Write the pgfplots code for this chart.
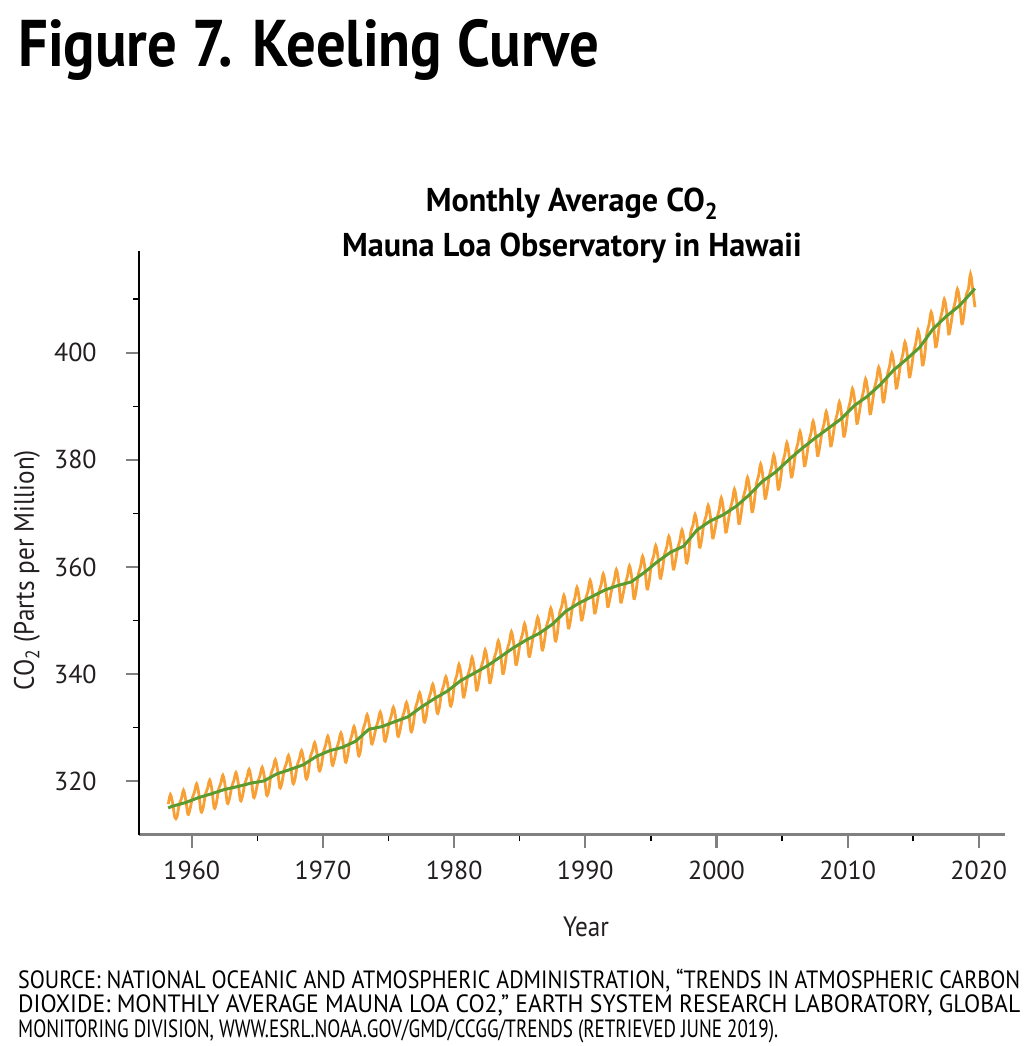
\documentclass[border=0pt]{standalone}
\usepackage{fontspec}
\usepackage{graphicx}
\usepackage{pgfplots}
\pgfplotsset{compat=1.18}
\setmainfont{PT Sans}
\newfontfamily\titlefont{PT Sans}[FakeStretch=0.89]
\newfontfamily\headfont{PT Sans}[FakeStretch=0.975]
\newfontfamily\labelfont{PT Sans}[FakeStretch=0.9]
\newfontfamily\notefont{PT Sans}[FakeStretch=0.8]

\definecolor{co2orange}{HTML}{F7A035}
\definecolor{co2green}{HTML}{5A9A2F}
\definecolor{tickgray}{HTML}{808080}
\definecolor{txt}{HTML}{231F20}

\newcommand\noteline[2]{\resizebox{#1}{\height}{\fontsize{25}{27}\notefont #2}}

\begin{document}
\begin{tikzpicture}
\path[use as bounding box] (0pt,0pt) rectangle (1024pt,1046pt);

% headings
\node[anchor=base west, inner sep=0pt] at (18pt,979pt)
  {\fontsize{66}{70}\titlefont\bfseries Figure 7. Keeling Curve};
\node[anchor=base, inner sep=0pt] at (572pt,834pt)
  {\fontsize{33}{36}\headfont\bfseries Monthly Average CO\textsubscript{2}};
\node[anchor=base, inner sep=0pt] at (572pt,789pt)
  {\fontsize{33}{36}\headfont\bfseries Mauna Loa Observatory in Hawaii};

% axis titles
\node[rotate=90, inner sep=0pt, text=txt] at (27pt,476pt)
  {\fontsize{28}{30}\labelfont CO\textsubscript{2} (Parts per Million)};
\node[anchor=base, inner sep=0pt, text=txt] at (586pt,109pt)
  {\fontsize{28}{30}\labelfont Year};

% source note
\node[anchor=base west, inner sep=0pt] at (18pt,57pt)
  {\noteline{1002pt}{SOURCE: NATIONAL OCEANIC AND ATMOSPHERIC ADMINISTRATION, “TRENDS IN ATMOSPHERIC CARBON}};
\node[anchor=base west, inner sep=0pt] at (18pt,33pt)
  {\noteline{1002pt}{DIOXIDE: MONTHLY AVERAGE MAUNA LOA CO2,” EARTH SYSTEM RESEARCH LABORATORY, GLOBAL}};
\node[anchor=base west, inner sep=0pt] at (18pt,9pt)
  {\noteline{760pt}{MONITORING DIVISION, WWW.ESRL.NOAA.GOV/GMD/CCGG/TRENDS (RETRIEVED JUNE 2019).}};

\begin{axis}[
  at={(139.3pt,211.3pt)}, anchor=south west,
  scale only axis, width=865.7pt, height=583.7pt,
  xmin=1956, xmax=2022, ymin=310, ymax=419,
  axis lines=left, axis line style={-},
  x axis line style={draw=tickgray, line width=2.4pt},
  y axis line style={draw=black, line width=1.8pt},
  xtick={1960,1970,...,2020}, minor xtick={1965,1975,...,2015},
  ytick={320,340,...,400}, minor ytick={330,350,...,410},
  tick align=outside,
  major tick length=13.5pt, minor tick length=6.5pt,
  major tick style={draw=tickgray, line width=2.2pt},
  minor tick style={draw=black, line width=1.4pt},
  tick label style={font=\fontsize{26}{28}\selectfont, text=txt, inner sep=0pt},
  /pgf/number format/assume math mode=true,
  /pgf/number format/1000 sep={},
  yticklabel style={anchor=east, xshift=-29pt},
  xticklabel style={anchor=north, yshift=-13pt},
]
% monthly averages (every second month)
\addplot[co2orange, line width=2.8pt, smooth] coordinates {
(1958.21,315.7) (1958.37,317.5) (1958.54,315.9) (1958.71,313.2) (1958.87,313.3)
(1959.04,315.6) (1959.21,316.7) (1959.37,318.3) (1959.54,316.5) (1959.71,313.8) (1959.87,314.8)
(1960.04,316.8) (1960.21,318.0) (1960.37,319.5) (1960.54,317.6) (1960.71,314.3) (1960.87,315.1)
(1961.04,317.5) (1961.21,318.7) (1961.37,320.2) (1961.54,318.3) (1961.71,315.0) (1961.87,315.8)
(1962.04,318.4) (1962.21,319.6) (1962.37,321.1) (1962.54,319.2) (1962.71,315.9) (1962.87,316.7)
(1963.04,318.9) (1963.21,320.1) (1963.37,321.6) (1963.54,319.7) (1963.71,316.4) (1963.87,317.2)
(1964.04,319.5) (1964.21,320.7) (1964.37,322.2) (1964.54,320.3) (1964.71,317.0) (1964.87,317.8)
(1965.04,319.9) (1965.21,321.1) (1965.37,322.6) (1965.54,320.7) (1965.71,317.4) (1965.87,318.2)
(1966.04,321.3) (1966.21,322.5) (1966.37,324.0) (1966.54,322.1) (1966.71,318.8) (1966.87,319.6)
(1967.04,322.1) (1967.21,323.3) (1967.37,324.8) (1967.54,322.9) (1967.71,319.6) (1967.87,320.4)
(1968.04,323.0) (1968.21,324.2) (1968.37,325.7) (1968.54,323.8) (1968.71,320.5) (1968.87,321.3)
(1969.04,324.5) (1969.21,325.7) (1969.37,327.2) (1969.54,325.3) (1969.71,322.0) (1969.87,322.8)
(1970.04,325.4) (1970.21,326.8) (1970.37,328.4) (1970.54,326.5) (1970.71,323.0) (1970.87,324.0)
(1971.04,326.0) (1971.21,327.4) (1971.37,329.0) (1971.54,327.1) (1971.71,323.6) (1971.87,324.6)
(1972.04,327.2) (1972.21,328.6) (1972.37,330.2) (1972.54,328.3) (1972.71,324.8) (1972.87,325.8)
(1973.04,329.4) (1973.21,330.8) (1973.37,332.4) (1973.54,330.5) (1973.71,327.0) (1973.87,328.0)
(1974.04,329.9) (1974.21,331.3) (1974.37,332.9) (1974.54,331.0) (1974.71,327.5) (1974.87,328.5)
(1975.04,330.8) (1975.21,332.2) (1975.37,333.8) (1975.54,331.9) (1975.71,328.4) (1975.87,329.4)
(1976.04,331.7) (1976.21,333.1) (1976.37,334.7) (1976.54,332.8) (1976.71,329.3) (1976.87,330.3)
(1977.04,333.5) (1977.21,334.9) (1977.37,336.5) (1977.54,334.6) (1977.71,331.1) (1977.87,332.1)
(1978.04,335.1) (1978.21,336.5) (1978.37,338.1) (1978.54,336.2) (1978.71,332.7) (1978.87,333.7)
(1979.04,336.5) (1979.21,337.9) (1979.37,339.5) (1979.54,337.6) (1979.71,334.1) (1979.87,335.1)
(1980.04,338.4) (1980.21,339.8) (1980.37,341.8) (1980.54,339.7) (1980.71,335.7) (1980.87,337.1)
(1981.04,339.7) (1981.21,341.1) (1981.37,343.1) (1981.54,341.0) (1981.71,337.0) (1981.87,338.4)
(1982.04,341.1) (1982.21,342.5) (1982.37,344.5) (1982.54,342.4) (1982.71,338.4) (1982.87,339.8)
(1983.04,342.8) (1983.21,344.2) (1983.37,346.2) (1983.54,344.1) (1983.71,340.1) (1983.87,341.5)
(1984.04,344.5) (1984.21,345.9) (1984.37,347.9) (1984.54,345.8) (1984.71,341.8) (1984.87,343.2)
(1985.04,346.0) (1985.21,347.4) (1985.37,349.4) (1985.54,347.3) (1985.71,343.3) (1985.87,344.7)
(1986.04,347.2) (1986.21,348.6) (1986.37,350.6) (1986.54,348.5) (1986.71,344.5) (1986.87,345.9)
(1987.04,348.9) (1987.21,350.3) (1987.37,352.3) (1987.54,350.2) (1987.71,346.2) (1987.87,347.6)
(1988.04,351.3) (1988.21,352.7) (1988.37,354.7) (1988.54,352.6) (1988.71,348.6) (1988.87,350.0)
(1989.04,352.8) (1989.21,354.2) (1989.37,356.2) (1989.54,354.1) (1989.71,350.1) (1989.87,351.5)
(1990.04,354.1) (1990.21,355.5) (1990.37,357.5) (1990.54,355.4) (1990.71,351.4) (1990.87,352.8)
(1991.04,355.3) (1991.21,356.7) (1991.37,358.7) (1991.54,356.6) (1991.71,352.6) (1991.87,354.0)
(1992.04,356.1) (1992.21,357.5) (1992.37,359.5) (1992.54,357.4) (1992.71,353.4) (1992.87,354.8)
(1993.04,356.8) (1993.21,358.2) (1993.37,360.2) (1993.54,358.1) (1993.71,354.1) (1993.87,355.5)
(1994.04,358.6) (1994.21,360.0) (1994.37,362.0) (1994.54,359.9) (1994.71,355.9) (1994.87,357.3)
(1995.04,360.6) (1995.21,362.0) (1995.37,364.0) (1995.54,361.9) (1995.71,357.9) (1995.87,359.3)
(1996.04,362.3) (1996.21,363.7) (1996.37,365.7) (1996.54,363.6) (1996.71,359.6) (1996.87,361.0)
(1997.04,363.5) (1997.21,364.9) (1997.37,366.9) (1997.54,364.8) (1997.71,360.8) (1997.87,362.2)
(1998.04,366.4) (1998.21,367.8) (1998.37,369.8) (1998.54,367.7) (1998.71,363.7) (1998.87,365.1)
(1999.04,368.1) (1999.21,369.5) (1999.37,371.5) (1999.54,369.4) (1999.71,365.4) (1999.87,366.8)
(2000.04,369.1) (2000.21,370.7) (2000.37,372.9) (2000.54,370.6) (2000.71,366.5) (2000.87,368.1)
(2001.04,370.7) (2001.21,372.3) (2001.37,374.5) (2001.54,372.2) (2001.71,368.1) (2001.87,369.7)
(2002.04,372.9) (2002.21,374.5) (2002.37,376.7) (2002.54,374.4) (2002.71,370.3) (2002.87,371.9)
(2003.04,375.4) (2003.21,377.0) (2003.37,379.2) (2003.54,376.9) (2003.71,372.8) (2003.87,374.4)
(2004.04,377.1) (2004.21,378.7) (2004.37,380.9) (2004.54,378.6) (2004.71,374.5) (2004.87,376.1)
(2005.04,379.4) (2005.21,381.0) (2005.37,383.2) (2005.54,380.9) (2005.71,376.8) (2005.87,378.4)
(2006.04,381.5) (2006.21,383.1) (2006.37,385.3) (2006.54,383.0) (2006.71,378.9) (2006.87,380.5)
(2007.04,383.4) (2007.21,385.0) (2007.37,387.2) (2007.54,384.9) (2007.71,380.8) (2007.87,382.4)
(2008.04,385.2) (2008.21,386.8) (2008.37,389.0) (2008.54,386.7) (2008.71,382.6) (2008.87,384.2)
(2009.04,387.0) (2009.21,388.6) (2009.37,390.8) (2009.54,388.5) (2009.71,384.4) (2009.87,386.0)
(2010.04,389.3) (2010.21,391.0) (2010.37,393.3) (2010.54,391.1) (2010.71,386.8) (2010.87,388.5)
(2011.04,391.1) (2011.21,392.8) (2011.37,395.1) (2011.54,392.9) (2011.71,388.6) (2011.87,390.3)
(2012.04,393.3) (2012.21,395.0) (2012.37,397.3) (2012.54,395.1) (2012.71,390.8) (2012.87,392.5)
(2013.04,395.9) (2013.21,397.6) (2013.37,399.9) (2013.54,397.7) (2013.71,393.4) (2013.87,395.1)
(2014.04,398.0) (2014.21,399.7) (2014.37,402.0) (2014.54,399.8) (2014.71,395.5) (2014.87,397.2)
(2015.04,400.2) (2015.21,401.9) (2015.37,404.2) (2015.54,402.0) (2015.71,397.7) (2015.87,399.4)
(2016.04,403.6) (2016.21,405.3) (2016.37,407.6) (2016.54,405.4) (2016.71,401.1) (2016.87,402.8)
(2017.04,406.0) (2017.21,407.7) (2017.37,410.0) (2017.54,407.8) (2017.71,403.5) (2017.87,405.2)
(2018.04,407.9) (2018.21,409.6) (2018.37,411.9) (2018.54,409.7) (2018.71,405.4) (2018.87,407.1)
(2019.04,410.8) (2019.21,411.9) (2019.37,414.7) (2019.54,411.8) (2019.71,408.5)
};
% seasonally corrected trend
\addplot[co2green, line width=3pt] coordinates {
(1958.2,315.0) (1958.5,315.3) (1959.5,315.98) (1960.5,316.91) (1961.5,317.64)
(1962.5,318.45) (1963.5,318.99) (1964.5,319.62) (1965.5,320.04) (1966.5,321.37)
(1967.5,322.18) (1968.5,323.05) (1969.5,324.62) (1970.5,325.68) (1971.5,326.32)
(1972.5,327.46) (1973.5,329.68) (1974.5,330.19) (1975.5,331.12) (1976.5,332.03)
(1977.5,333.84) (1978.5,335.41) (1979.5,336.84) (1980.5,338.76) (1981.5,340.12)
(1982.5,341.48) (1983.5,343.15) (1984.5,344.87) (1985.5,346.35) (1986.5,347.61)
(1987.5,349.31) (1988.5,351.69) (1989.5,353.20) (1990.5,354.45) (1991.5,355.70)
(1992.5,356.54) (1993.5,357.21) (1994.5,358.96) (1995.5,360.97) (1996.5,362.74)
(1997.5,363.88) (1998.5,366.84) (1999.5,368.54) (2000.5,369.71) (2001.5,371.32)
(2002.5,373.45) (2003.5,375.98) (2004.5,377.70) (2005.5,379.98) (2006.5,382.09)
(2007.5,384.02) (2008.5,385.83) (2009.5,387.64) (2010.5,390.10) (2011.5,391.85)
(2012.5,394.06) (2013.5,396.74) (2014.5,398.81) (2015.5,401.01) (2016.5,404.41)
(2017.5,406.76) (2018.5,408.72) (2019.5,411.4) (2019.7,412.0)
};
\end{axis}
\end{tikzpicture}
\end{document}
